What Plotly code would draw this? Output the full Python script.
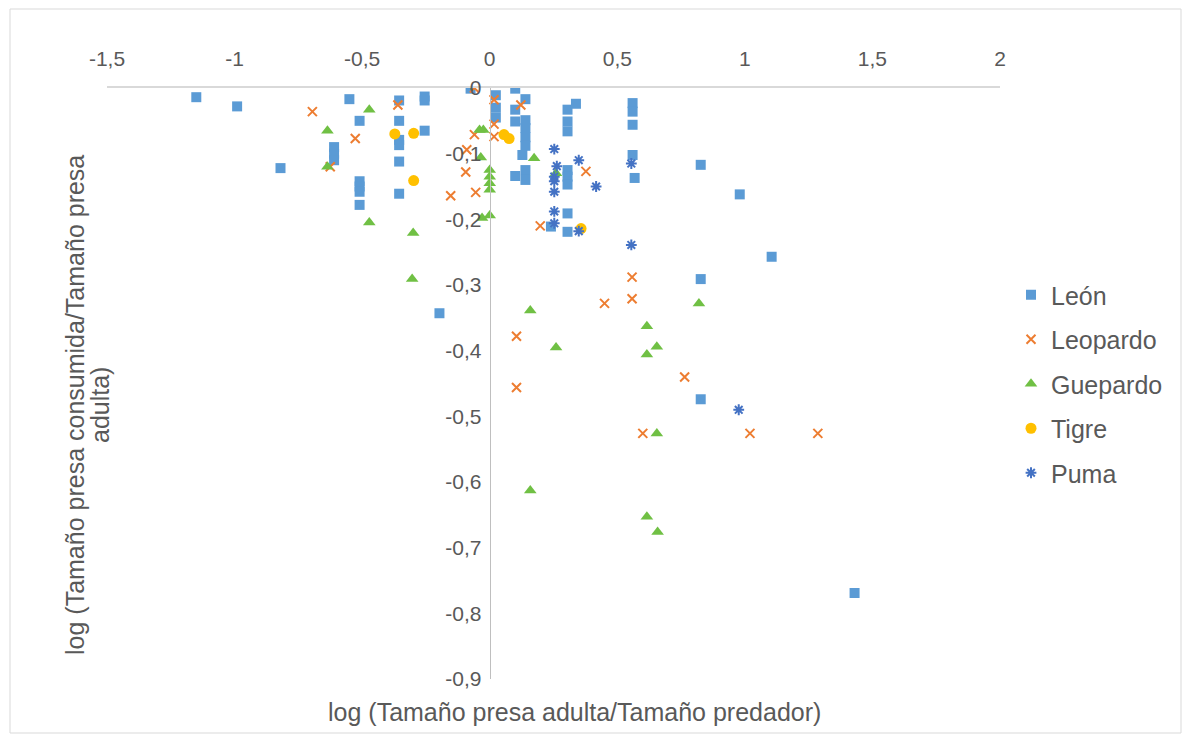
import plotly.graph_objects as go

# ---- data ----
leon_x = [-1.15, -0.99, -0.82, -0.61, -0.61, -0.61, -0.55, -0.51, -0.51, -0.51, -0.51, -0.51,
          -0.355, -0.355, -0.355, -0.355, -0.355, -0.355, -0.255, -0.255, -0.255, -0.075, -0.197,
          0.024, 0.024, 0.024, 0.10, 0.14, 0.10, 0.10, 0.14, 0.14, 0.14, 0.14, 0.128, 0.10, 0.14, 0.14,
          0.305, 0.338, 0.305, 0.305, 0.305, 0.305, 0.305, 0.305, 0.305, 0.24,
          0.56, 0.56, 0.56, 0.56, 0.568, 0.827, 0.98, 1.105, 0.827, 0.827, 1.43]
leon_y = [-0.014, -0.028, -0.122, -0.09, -0.10, -0.11, -0.017, -0.050, -0.142, -0.150, -0.158, -0.178,
          -0.019, -0.050, -0.079, -0.087, -0.112, -0.161, -0.013, -0.019, -0.065, -0.001, -0.343,
          -0.011, -0.030, -0.045, -0.001, -0.017, -0.033, -0.051, -0.049, -0.061, -0.075, -0.088, -0.102, -0.134, -0.125, -0.140,
          -0.033, -0.024, -0.051, -0.066, -0.125, -0.135, -0.147, -0.191, -0.219, -0.211,
          -0.023, -0.036, -0.056, -0.102, -0.137, -0.117, -0.162, -0.257, -0.291, -0.474, -0.769]

leopardo_x = [-0.695, -0.527, -0.625, -0.36, -0.06, -0.09, -0.094, -0.153, -0.055, -0.06, 0.017, 0.122,
              0.017, 0.017, 0.198, 0.377, 0.558, 0.558, 0.45, 0.105, 0.105, 0.764, 0.60, 1.02, 1.286]
leopardo_y = [-0.036, -0.077, -0.12, -0.026, 0.0, -0.094, -0.128, -0.164, -0.159, -0.071, -0.018, -0.026,
              -0.055, -0.074, -0.21, -0.127, -0.288, -0.321, -0.328, -0.378, -0.456, -0.440, -0.526, -0.526, -0.526]

guepardo_x = [-0.472, -0.636, -0.636, -0.472, -0.30, -0.304, -0.04, -0.025, -0.035, 0.0, 0.0, 0.0, 0.0,
              -0.03, 0.0, 0.174, 0.26, 0.159, 0.26, 0.616, 0.616, 0.655, 0.82, 0.655, 0.159, 0.616, 0.658]
guepardo_y = [-0.033, -0.065, -0.12, -0.205, -0.221, -0.291, -0.064, -0.064, -0.106, -0.125, -0.135, -0.145, -0.155,
              -0.198, -0.194, -0.107, -0.13, -0.339, -0.395, -0.363, -0.406, -0.394, -0.328, -0.526, -0.613, -0.653, -0.676]

tigre_x = [-0.372, -0.298, -0.298, 0.056, 0.076, 0.358]
tigre_y = [-0.070, -0.069, -0.141, -0.071, -0.077, -0.214]

puma_x = [0.253, 0.263, 0.349, 0.253, 0.253, 0.253, 0.417, 0.253, 0.253, 0.349, 0.555, 0.555, 0.976]
puma_y = [-0.093, -0.119, -0.110, -0.135, -0.142, -0.158, -0.150, -0.188, -0.206, -0.218, -0.115, -0.239, -0.49]

x_ticks = [-1.5, -1, -0.5, 0, 0.5, 1, 1.5, 2]
x_ticktext = ["-1,5", "-1", "-0,5", "0", "0,5", "1", "1,5", "2"]
y_ticks = [0, -0.1, -0.2, -0.3, -0.4, -0.5, -0.6, -0.7, -0.8, -0.9]
y_ticktext = ["0", "-0,1", "-0,2", "-0,3", "-0,4", "-0,5", "-0,6", "-0,7", "-0,8", "-0,9"]

x_title = "log (Tamaño presa adulta/Tamaño predador)"
y_title_1 = "log (Tamaño presa consumida/Tamaño presa"
y_title_2 = "adulta)"

FONT = "Liberation Sans, Arial, sans-serif"
TXT = "#595959"

fig = go.Figure()
series = [
    ("León", leon_x, leon_y, dict(symbol="square", size=10, color="#5B9BD5")),
    ("Leopardo", leopardo_x, leopardo_y, dict(symbol="x-thin-open", size=9, color="#ED7D31",
                                               line=dict(width=2, color="#ED7D31"))),
    ("Guepardo", guepardo_x, guepardo_y, dict(symbol="triangle-up", size=11, color="#70C044")),
    ("Tigre", tigre_x, tigre_y, dict(symbol="circle", size=11, color="#FFC000")),
    ("Puma", puma_x, puma_y, dict(symbol="asterisk-open", size=9, color="#4472C4",
                                   line=dict(width=2, color="#4472C4"))),
]
for name, xs, ys, mk in series:
    fig.add_trace(go.Scatter(x=xs, y=ys, mode="markers", name=name, marker=mk, legendgroup=name))

# plot area in page pixels: x 107..1000, y 88..679 (page has an 8px body offset)
L, T = 99, 80
PW, PH = 893, 591

def px_x(p):
    return (p - 107) / PW

def px_y(p):
    return (679 - p) / PH

fig.update_layout(
    width=1190, height=740,
    margin=dict(l=L, r=1190 - L - PW, t=T, b=740 - T - PH),
    paper_bgcolor="white", plot_bgcolor="white",
    font=dict(family=FONT, color=TXT, size=21),
    showlegend=True,
    legend=dict(x=px_x(1011), y=px_y(272), xanchor="left", yanchor="top",
                font=dict(size=25, color=TXT), tracegroupgap=9, traceorder="grouped"),
    xaxis=dict(range=[-1.5, 2], side="top", tickvals=x_ticks, ticktext=x_ticktext,
               showline=True, linecolor="#D9D9D9", linewidth=2, showgrid=False, zeroline=False,
               ticks="", ticklabelstandoff=12, tickfont=dict(size=21, color=TXT)),
    yaxis=dict(range=[-0.9, 0], tickvals=y_ticks, ticktext=y_ticktext, anchor="free",
               position=0.428571, showline=True, linecolor="#BFBFBF", linewidth=1,
               showgrid=False, zeroline=False, ticks="", ticklabelstandoff=4,
               tickfont=dict(size=21, color=TXT)),
    annotations=[
        dict(text=x_title, xref="paper", yref="paper", x=px_x(574), y=px_y(712), showarrow=False,
             xanchor="center", yanchor="middle", font=dict(size=25, color=TXT)),
        dict(text=y_title_1, xref="paper", yref="paper", x=px_x(75), y=px_y(405), showarrow=False,
             xanchor="center", yanchor="middle", textangle=-90, font=dict(size=25, color=TXT)),
        dict(text=y_title_2, xref="paper", yref="paper", x=px_x(100), y=px_y(405), showarrow=False,
             xanchor="center", yanchor="middle", textangle=-90, font=dict(size=25, color=TXT)),
    ],
    shapes=[dict(type="rect", xref="paper", yref="paper",
                 x0=px_x(10), x1=px_x(1181), y0=px_y(733), y1=px_y(9),
                 line=dict(color="#D9D9D9", width=1), fillcolor="rgba(0,0,0,0)")],
)

fig.write_html("out.html")
